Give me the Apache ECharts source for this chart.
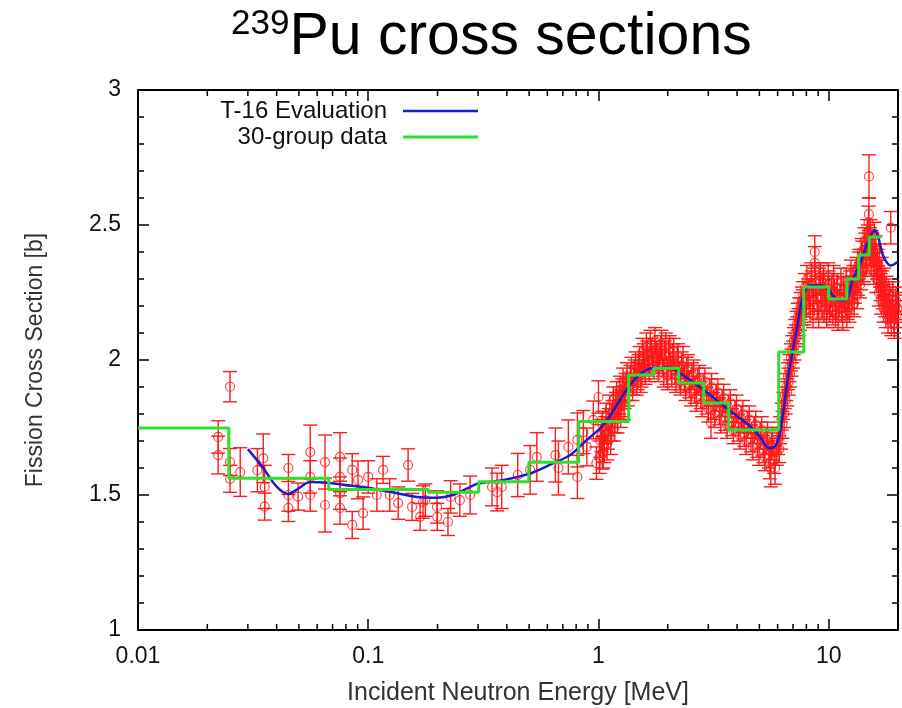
<!DOCTYPE html>
<html>
<head>
<meta charset="utf-8">
<script src="https://cdn.jsdelivr.net/npm/echarts@6/dist/echarts.min.js"></script>
<style>
  html, body { margin: 0; padding: 0; background: #fff; }
  #chart { width: 902px; height: 708px; }
</style>
</head>
<body>
<div id="chart"></div>
<script>
// ---------- data ----------
const xTickValues = [0.01, 0.1, 1, 10];
const xTickLabels = ['0.01', '0.1', '1', '10'];
const xMinorTicks = [0.02,0.03,0.04,0.05,0.06,0.07,0.08,0.09,
                     0.2,0.3,0.4,0.5,0.6,0.7,0.8,0.9,
                     2,3,4,5,6,7,8,9];

// T-16 evaluation (blue curve)
const evalE  = [0.030,0.035,0.040,0.045,0.050,0.056,0.068,0.080,0.095,0.124,0.163,0.199,0.233,0.265,0.302,0.389,0.506,0.637,0.754,0.89,1.05,1.24,1.37,1.53,1.73,2.06,2.27,2.87,3.68,4.58,5.08,5.5,5.9,6.2,6.7,7.3,7.8,8.4,9.2,10,11,11.8,12.7,13.7,14.9,15.9,16.4,17.3,18.6,20];
const evalXS = [1.670,1.600,1.531,1.504,1.525,1.548,1.544,1.537,1.530,1.512,1.493,1.490,1.500,1.522,1.543,1.556,1.580,1.618,1.648,1.704,1.759,1.852,1.907,1.950,1.970,1.972,1.950,1.889,1.815,1.753,1.711,1.674,1.685,1.753,1.950,2.123,2.247,2.277,2.277,2.259,2.222,2.222,2.296,2.358,2.444,2.481,2.456,2.383,2.350,2.364];

// 30-group data (green steps): group boundaries and group values
const groupBounds = [0.01,0.0248,0.0674,0.183,0.302,0.498,0.821,1.353,1.738,2.231,2.865,3.679,6.065,7.79,10,12,13.5,15,17];
const groupXS     = [1.748,1.562,1.520,1.510,1.549,1.621,1.772,1.944,1.969,1.915,1.841,1.741,2.030,2.270,2.226,2.300,2.389,2.456];

// experimental points, low-energy region
const lowE   = [0.0223,0.0223,0.0251,0.0251,0.0251,0.0278,0.033,0.035,0.0355,0.0355,0.045,0.045,0.045,0.0496,0.056,0.056,0.056,0.0649,0.0649,0.0754,0.0754,0.0754,0.0754,0.0852,0.0852,0.0903,0.095,0.100,0.109,0.116,0.124,0.135,0.149,0.155,0.168,0.173,0.177,0.199,0.1995,0.222,0.228,0.25,0.277,0.345,0.363,0.38,0.446,0.505,0.54,0.65,0.67,0.74,0.81,0.81,0.86,0.89,0.95,0.98,1.0,1.04];
const lowXS  = [1.715,1.648,1.901,1.622,1.560,1.585,1.592,1.636,1.530,1.457,1.600,1.500,1.452,1.494,1.659,1.567,1.500,1.622,1.463,1.641,1.567,1.507,1.452,1.593,1.389,1.556,1.433,1.567,1.500,1.593,1.500,1.470,1.611,1.456,1.419,1.474,1.481,1.456,1.419,1.400,1.493,1.481,1.500,1.530,1.511,1.530,1.574,1.593,1.641,1.648,1.600,1.678,1.567,1.704,1.733,1.678,1.778,1.618,1.863,1.656];
const lowErr = [0.06,0.07,0.056,0.05,0.05,0.09,0.08,0.09,0.08,0.05,0.05,0.06,0.05,0.05,0.10,0.06,0.06,0.10,0.10,0.09,0.07,0.06,0.06,0.06,0.05,0.07,0.06,0.06,0.06,0.05,0.06,0.06,0.06,0.05,0.05,0.06,0.06,0.06,0.05,0.05,0.06,0.06,0.07,0.07,0.07,0.08,0.08,0.09,0.09,0.10,0.10,0.10,0.08,0.10,0.08,0.07,0.07,0.06,0.06,0.06];

// experimental points, 1-6 MeV (first set)
const midE   = [1.02,1.04,1.06,1.08,1.10,1.12,1.14,1.16,1.18,1.20,1.22,1.24,1.26,1.28,1.30,1.33,1.36,1.39,1.42,1.45,1.48,1.51,1.54,1.57,1.60,1.63,1.66,1.70,1.74,1.78,1.82,1.86,1.90,1.94,1.98,2.02,2.06,2.10,2.15,2.20,2.25,2.30,2.36,2.42,2.48,2.55,2.62,2.70,2.78,2.86,2.95,3.05,3.08,3.15,3.25,3.35,3.45,3.55,3.68,3.80,3.92,4.05,4.18,4.30,4.45,4.60,4.75,4.90,5.05,5.20,5.35,5.50,5.60,5.65,5.80,5.95];
const midXS  = [1.70,1.76,1.68,1.79,1.73,1.82,1.76,1.85,1.79,1.87,1.82,1.89,1.84,1.92,1.87,1.94,1.90,1.96,1.92,1.98,1.94,2.00,1.95,2.01,1.96,2.02,1.97,2.03,1.98,2.02,1.97,2.04,1.99,2.02,1.96,2.03,1.98,2.01,1.96,2.00,1.94,1.98,1.93,1.96,1.91,1.94,1.89,1.92,1.87,1.90,1.85,1.88,1.77,1.83,1.86,1.81,1.84,1.79,1.82,1.77,1.80,1.75,1.78,1.73,1.76,1.71,1.74,1.69,1.72,1.67,1.70,1.65,1.60,1.68,1.63,1.66];
const midErr = [0.06,0.05,0.06,0.05,0.06,0.05,0.06,0.05,0.06,0.05,0.05,0.05,0.05,0.05,0.05,0.05,0.05,0.05,0.05,0.05,0.05,0.05,0.05,0.05,0.05,0.05,0.05,0.05,0.05,0.05,0.05,0.05,0.05,0.05,0.05,0.05,0.05,0.05,0.05,0.05,0.05,0.05,0.05,0.05,0.05,0.05,0.05,0.05,0.05,0.05,0.05,0.05,0.06,0.05,0.05,0.05,0.05,0.05,0.05,0.05,0.05,0.05,0.05,0.05,0.05,0.05,0.05,0.05,0.05,0.05,0.05,0.05,0.07,0.05,0.05,0.05];

// experimental points, 1-6 MeV (second set)
const mid2E   = [1.01,1.03,1.05,1.07,1.09,1.11,1.13,1.15,1.17,1.19,1.21,1.23,1.25,1.27,1.29,1.31,1.345,1.375,1.405,1.435,1.465,1.495,1.525,1.555,1.585,1.615,1.645,1.68,1.72,1.76,1.80,1.84,1.88,1.92,1.96,2.00,2.04,2.08,2.12,2.17,2.22,2.27,2.33,2.39,2.45,2.52,2.59,2.66,2.74,2.82,2.90,3.00,3.10,3.20,3.30,3.40,3.50,3.62,3.74,3.86,3.98,4.12,4.24,4.38,4.52,4.68,4.82,4.98,5.12,5.28,5.42,5.55,5.70,5.85];
const mid2XS  = [1.64,1.72,1.66,1.74,1.69,1.77,1.71,1.80,1.75,1.83,1.78,1.85,1.80,1.88,1.83,1.90,1.88,1.93,1.90,1.95,1.92,1.97,1.93,2.03,1.98,2.05,1.99,2.06,2.00,2.07,2.01,2.00,2.06,1.95,2.05,1.94,2.04,1.95,2.03,1.93,2.01,1.92,2.00,1.90,1.97,1.88,1.95,1.86,1.93,1.84,1.92,1.82,1.90,1.80,1.88,1.78,1.86,1.76,1.84,1.74,1.82,1.72,1.80,1.70,1.78,1.68,1.76,1.66,1.74,1.64,1.72,1.62,1.70,1.60];
const mid2Err = [0.06,0.06,0.06,0.05,0.06,0.05,0.06,0.05,0.05,0.05,0.05,0.05,0.05,0.05,0.05,0.05,0.05,0.05,0.05,0.05,0.05,0.05,0.05,0.05,0.05,0.05,0.05,0.05,0.05,0.05,0.05,0.05,0.05,0.05,0.05,0.05,0.05,0.05,0.05,0.05,0.05,0.05,0.05,0.05,0.05,0.05,0.05,0.05,0.05,0.05,0.05,0.05,0.05,0.05,0.05,0.05,0.05,0.05,0.05,0.05,0.05,0.05,0.05,0.05,0.05,0.05,0.05,0.05,0.05,0.05,0.05,0.06,0.05,0.06];

// experimental points, 6-20 MeV (first set)
const highE   = [6.05,6.15,6.25,6.35,6.45,6.55,6.65,6.75,6.85,6.95,7.05,7.15,7.25,7.35,7.45,7.55,7.65,7.75,7.9,8.0,8.15,8.3,8.45,8.6,8.7,8.7,8.8,8.95,9.1,9.25,9.4,9.55,9.7,9.85,10.0,10.2,10.4,10.6,10.8,11.0,11.2,11.4,11.6,11.8,12.0,12.2,12.4,12.6,12.8,13.0,13.2,13.4,13.6,13.8,14.0,14.2,14.4,14.6,14.8,14.9,14.95,14.96,15.0,15.2,15.4,15.6,15.8,16.0,16.2,16.4,16.6,16.8,17.0,17.2,17.4,17.6,17.8,18.0,18.3,18.6,18.6,18.9,19.2,19.5,19.8];
const highXS  = [1.70,1.74,1.79,1.83,1.87,1.90,1.94,1.97,2.01,2.04,2.07,2.10,2.13,2.16,2.18,2.20,2.22,2.24,2.27,2.21,2.25,2.19,2.28,2.22,2.40,2.36,2.26,2.20,2.29,2.23,2.27,2.19,2.25,2.21,2.28,2.22,2.18,2.25,2.20,2.16,2.23,2.19,2.26,2.21,2.17,2.24,2.28,2.22,2.30,2.26,2.33,2.29,2.36,2.31,2.39,2.34,2.42,2.37,2.45,2.51,2.54,2.68,2.40,2.47,2.43,2.38,2.46,2.41,2.35,2.30,2.38,2.27,2.33,2.24,2.29,2.21,2.26,2.19,2.24,2.49,2.17,2.22,2.15,2.20,2.17];
const highErr = [0.05,0.05,0.05,0.05,0.05,0.05,0.05,0.05,0.05,0.05,0.05,0.05,0.05,0.05,0.05,0.05,0.05,0.05,0.05,0.05,0.05,0.05,0.05,0.05,0.06,0.06,0.05,0.05,0.05,0.05,0.05,0.05,0.05,0.05,0.05,0.05,0.05,0.05,0.05,0.05,0.05,0.05,0.05,0.05,0.05,0.05,0.05,0.05,0.05,0.05,0.05,0.05,0.05,0.05,0.05,0.05,0.05,0.05,0.05,0.06,0.06,0.08,0.05,0.05,0.05,0.05,0.05,0.05,0.05,0.05,0.05,0.05,0.05,0.05,0.05,0.05,0.05,0.05,0.05,0.06,0.05,0.05,0.05,0.05,0.05];

// experimental points, 6-20 MeV (second set)
const high2E   = [6.1,6.2,6.3,6.4,6.5,6.6,6.7,6.8,6.9,7.0,7.1,7.2,7.3,7.4,7.5,7.6,7.7,7.85,8.05,8.25,8.4,8.55,8.75,8.9,9.05,9.2,9.35,9.5,9.65,9.8,9.95,10.1,10.3,10.5,10.7,10.9,11.1,11.3,11.5,11.7,11.9,12.1,12.3,12.5,12.7,12.9,13.1,13.3,13.5,13.7,13.9,14.1,14.3,14.5,14.7,15.1,15.3,15.5,15.7,15.9,16.1,16.3,16.5,16.7,16.9,17.1,17.3,17.5,17.7,17.9,18.1,18.4,18.7,19.0,19.3,19.6,19.9];
const high2XS  = [1.67,1.72,1.76,1.80,1.85,1.88,1.92,1.95,1.99,2.02,2.05,2.08,2.11,2.14,2.16,2.18,2.21,2.18,2.30,2.24,2.31,2.17,2.30,2.23,2.17,2.31,2.20,2.30,2.23,2.17,2.31,2.19,2.26,2.30,2.17,2.27,2.21,2.29,2.16,2.23,2.29,2.20,2.19,2.32,2.26,2.21,2.30,2.24,2.35,2.28,2.40,2.33,2.44,2.36,2.47,2.44,2.36,2.42,2.33,2.37,2.30,2.36,2.25,2.32,2.22,2.28,2.19,2.25,2.17,2.23,2.15,2.21,2.14,2.24,2.13,2.22,2.19];
const high2Err = [0.05,0.05,0.05,0.05,0.05,0.05,0.05,0.05,0.05,0.05,0.05,0.05,0.05,0.05,0.05,0.05,0.05,0.05,0.05,0.05,0.05,0.05,0.05,0.05,0.05,0.05,0.05,0.05,0.05,0.05,0.05,0.05,0.05,0.05,0.05,0.05,0.05,0.05,0.05,0.05,0.05,0.05,0.05,0.05,0.05,0.05,0.05,0.05,0.05,0.05,0.05,0.05,0.05,0.05,0.05,0.05,0.05,0.05,0.05,0.05,0.05,0.05,0.05,0.05,0.05,0.05,0.05,0.05,0.05,0.05,0.05,0.05,0.05,0.05,0.05,0.05,0.05];

// ---------- build series data ----------
const evalData = evalE.map((e, i) => [e, evalXS[i]]);
const groupData = [];
groupXS.forEach((v, i) => { groupData.push([groupBounds[i], v]); groupData.push([groupBounds[i + 1], v]); });

const expPts = [];
[[lowE, lowXS, lowErr], [midE, midXS, midErr], [mid2E, mid2XS, mid2Err],
 [highE, highXS, highErr], [high2E, high2XS, high2Err]].forEach(([E, XS, ER]) => {
  E.forEach((e, i) => expPts.push([e, XS[i], XS[i] - ER[i], XS[i] + ER[i]]));
});

const RED = '#ff1a1a';
const FONT = '"Liberation Sans", Arial, sans-serif';

const chart = echarts.init(document.getElementById('chart'), null, { renderer: 'canvas' });

const axisCommonX = {
  type: 'log', logBase: 10, min: 0.01, max: 20,
  axisLine: { show: true, onZero: false, lineStyle: { color: '#000', width: 2 } },
  axisTick: { show: true, inside: true, length: 11, lineStyle: { color: '#000', width: 1.5 } },
  minorTick: { show: false },
  splitLine: { show: false }
};
const axisCommonY = {
  type: 'value', min: 1, max: 3, interval: 0.5,
  axisLine: { show: true, onZero: false, lineStyle: { color: '#000', width: 2 } },
  axisTick: { show: true, inside: true, length: 11, lineStyle: { color: '#000', width: 1.5 } },
  minorTick: { show: true, splitNumber: 5, length: 6, lineStyle: { color: '#000', width: 1.5 } },
  splitLine: { show: false }
};

const option = {
  animation: false,
  backgroundColor: '#fff',
  textStyle: { fontFamily: FONT },
  title: {
    text: '{sup|239}{main|Pu cross sections}',
    left: 226, top: 2,
    textStyle: {
      fontFamily: FONT, color: '#000', fontWeight: 'normal',
      rich: {
        sup: { fontSize: 35, fontFamily: FONT, fontWeight: 'normal', color: '#000', verticalAlign: 'top', lineHeight: 42 },
        main: { fontSize: 59, fontFamily: FONT, fontWeight: 'normal', color: '#000', lineHeight: 62 }
      }
    }
  },
  legend: [
    { data: ['T-16 Evaluation'], right: 424, top: 99, padding: 0, align: 'right', orient: 'vertical',
      icon: 'rect', itemWidth: 75, itemHeight: 2.5, selectedMode: false,
      textStyle: { fontSize: 24, color: '#111', fontFamily: FONT, padding: [0, 11, 0, 0] } },
    { data: ['30-group data'], right: 424, top: 125, padding: 0, align: 'right', orient: 'vertical',
      icon: 'rect', itemWidth: 75, itemHeight: 3, selectedMode: false,
      textStyle: { fontSize: 24, color: '#111', fontFamily: FONT, padding: [0, 11, 0, 0] } }
  ],
  grid: { left: 138, right: 4, top: 90, bottom: 78, containLabel: false, outerBoundsMode: 'none' },
  xAxis: [
    Object.assign({}, axisCommonX, {
      position: 'bottom',
      name: 'Incident Neutron Energy [MeV]', nameLocation: 'middle', nameGap: 51,
      nameTextStyle: { fontSize: 25, color: '#333', fontFamily: FONT },
      axisLabel: {
        show: true, margin: 15, fontSize: 23, color: '#111', fontFamily: FONT,
        formatter: (v) => {
          for (let i = 0; i < xTickValues.length; i++) {
            if (Math.abs(Math.log10(v) - Math.log10(xTickValues[i])) < 1e-6) return xTickLabels[i];
          }
          return '';
        }
      }
    }),
    Object.assign({}, axisCommonX, { position: 'top', axisLabel: { show: false } })
  ],
  yAxis: [
    Object.assign({}, axisCommonY, {
      position: 'left',
      name: 'Fission Cross Section [b]', nameLocation: 'middle', nameGap: 91, nameRotate: 90,
      nameTextStyle: { fontSize: 23, color: '#333', fontFamily: FONT },
      axisLabel: { show: true, margin: 17, fontSize: 23, color: '#111', fontFamily: FONT }
    }),
    Object.assign({}, axisCommonY, { position: 'right', axisLabel: { show: false } })
  ],
  series: [
    {
      type: 'custom', name: 'errbars', silent: true, z: 1,
      xAxisIndex: 0, yAxisIndex: 0,
      encode: { x: 0, y: [1, 2, 3] },
      data: expPts,
      renderItem: (params, api) => {
        const x = api.value(0);
        const lo = api.coord([x, api.value(2)]);
        const hi = api.coord([x, api.value(3)]);
        const w = 7;
        const st = { stroke: RED, lineWidth: 1.4 };
        return { type: 'group', children: [
          { type: 'line', shape: { x1: lo[0], y1: lo[1], x2: hi[0], y2: hi[1] }, style: st },
          { type: 'line', shape: { x1: lo[0] - w, y1: lo[1], x2: lo[0] + w, y2: lo[1] }, style: st },
          { type: 'line', shape: { x1: hi[0] - w, y1: hi[1], x2: hi[0] + w, y2: hi[1] }, style: st }
        ] };
      }
    },
    {
      type: 'scatter', name: 'exp', silent: true, z: 2,
      data: expPts.map(p => [p[0], p[1]]),
      symbol: 'circle', symbolSize: 9,
      itemStyle: { color: 'rgba(0,0,0,0)', borderColor: RED, borderWidth: 1.2 }
    },
    {
      type: 'line', name: 'T-16 Evaluation', z: 3,
      data: evalData, smooth: 0.35, showSymbol: false, symbol: 'none',
      lineStyle: { color: '#1c1cc8', width: 2.5 },
      itemStyle: { color: '#1c1cc8' }
    },
    {
      type: 'line', name: '30-group data', z: 4,
      data: groupData, showSymbol: false, symbol: 'none',
      lineStyle: { color: '#2ee02e', width: 3 },
      itemStyle: { color: '#2ee02e' }
    },
    {
      type: 'custom', name: 'minorTicks', silent: true, z: 5,
      xAxisIndex: 0, yAxisIndex: 0,
      data: xMinorTicks.map(v => [v, 1]),
      renderItem: (params, api) => {
        const v = api.value(0);
        const b = api.coord([v, 1]);
        const t = api.coord([v, 3]);
        const st = { stroke: '#000', lineWidth: 1.5 };
        return { type: 'group', children: [
          { type: 'line', shape: { x1: b[0], y1: b[1], x2: b[0], y2: b[1] - 6 }, style: st },
          { type: 'line', shape: { x1: t[0], y1: t[1], x2: t[0], y2: t[1] + 6 }, style: st }
        ] };
      }
    }
  ]
};
chart.setOption(option);
</script>
</body>
</html>
